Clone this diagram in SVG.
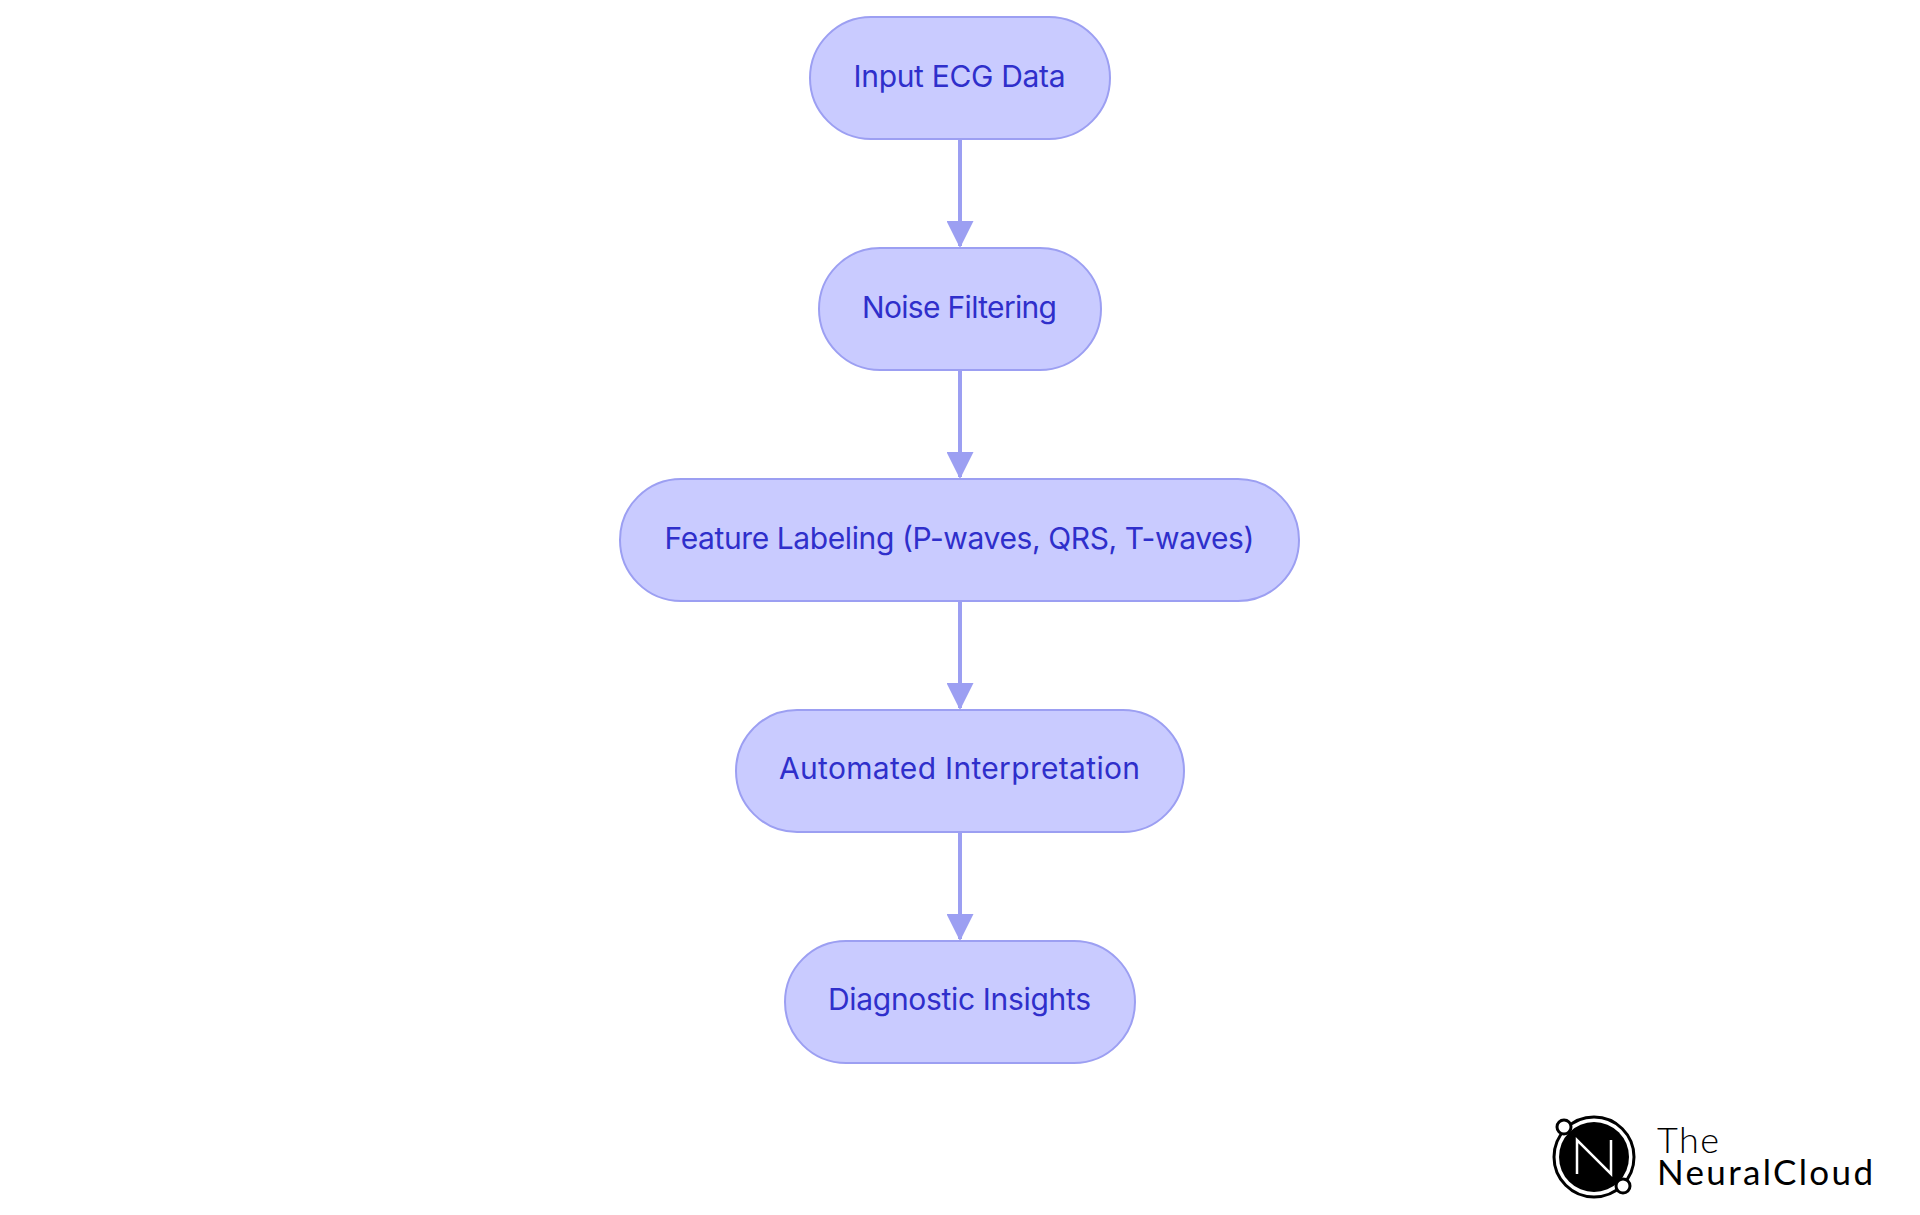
<svg xmlns="http://www.w3.org/2000/svg" width="1920" height="1215" viewBox="0 0 1920 1215">
<style>
.n{fill:#c9cbff;stroke:#9c9ff2;stroke-width:2}
.t{font-family:"Inter","Noto Sans",sans-serif;font-size:30px;fill:#2f2fcb;text-anchor:middle}
.c{stroke:#9c9ff2;stroke-width:4;fill:none;marker-end:url(#a)}
.l{font-family:"Lato","Noto Sans",sans-serif;fill:#000}
</style>
<defs><marker id="a" markerUnits="userSpaceOnUse" markerWidth="27" markerHeight="27" refX="25" refY="13.5" orient="auto" viewBox="0 0 27 27"><path d="M0 0L27 13.5L0 27Z" fill="#9c9ff2"/></marker></defs>
<rect width="1920" height="1215" fill="#fff"/>
<g id="connectors">
<path class="c" d="M960 139V246"/>
<path class="c" d="M960 370V477"/>
<path class="c" d="M960 601V708"/>
<path class="c" d="M960 832V939"/>
</g>
<g id="n1"><rect class="n" x="810" y="17" width="300" height="122" rx="61"/><text class="t" x="959.5" y="87" textLength="212" lengthAdjust="spacing">Input ECG Data</text></g>
<g id="n2"><rect class="n" x="819" y="248" width="282" height="122" rx="61"/><text class="t" x="959.5" y="318" textLength="195" lengthAdjust="spacing">Noise Filtering</text></g>
<g id="n3"><rect class="n" x="620" y="479" width="679" height="122" rx="61"/><text class="t" x="959.5" y="549" textLength="590" lengthAdjust="spacing">Feature Labeling (P-waves, QRS, T-waves)</text></g>
<g id="n4"><rect class="n" x="736" y="710" width="448" height="122" rx="61"/><text class="t" x="959.5" y="779" textLength="361" lengthAdjust="spacing">Automated Interpretation</text></g>
<g id="n5"><rect class="n" x="785" y="941" width="350" height="122" rx="61"/><text class="t" x="959.5" y="1010" textLength="263" lengthAdjust="spacing">Diagnostic Insights</text></g>
<g id="logo">
<circle cx="1594" cy="1157" r="40" fill="#fff" stroke="#000" stroke-width="3"/>
<circle cx="1594" cy="1157" r="35" fill="#000"/>
<path d="M1577 1174V1140L1611 1174V1140" fill="none" stroke="#fff" stroke-width="2.5"/>
<circle cx="1564" cy="1127" r="7" fill="#fff" stroke="#000" stroke-width="3"/>
<circle cx="1623" cy="1186" r="7" fill="#fff" stroke="#000" stroke-width="3"/>
<text class="l" x="1657" y="1153" font-size="36" font-weight="300" textLength="62" lengthAdjust="spacing">The</text>
<text class="l" x="1657" y="1185" font-size="35" textLength="216" lengthAdjust="spacing">NeuralCloud</text>
</g>
</svg>
